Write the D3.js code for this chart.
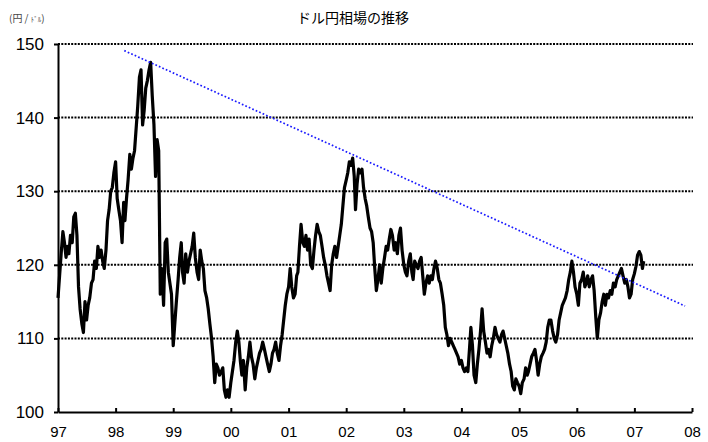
<!DOCTYPE html>
<html>
<head>
<meta charset="utf-8">
<script src="https://cdn.jsdelivr.net/npm/d3@7"></script>
<style>
  body { margin: 0; background: #fff; }
  svg text { font-family: "Liberation Sans", Arial, sans-serif; }
  .jp { font-family: "Noto Sans CJK JP", sans-serif; }
</style>
</head>
<body>
<div id="container"></div>
<script>
// USD/JPY, three readings per month (1st, 11th, 21st)
const rate1997 = [115.5, 118.5, 121.5, 124.5, 123, 121, 122.5, 121.5, 124, 123, 126.5, 127,
  124, 117, 114, 112, 110.8, 115, 112.5, 114.5, 115.5, 117.5, 118, 120.5,
  119.5, 122.5, 121, 122, 120.5, 119.5, 122, 126, 127.5, 130, 130.5, 132.5];
const rate1998 = [134, 129, 127.5, 126, 123, 128.5, 126, 129, 131.5, 135, 133, 134.5,
  135.5, 138.5, 141.5, 145.5, 146.5, 139, 141, 144, 145, 146.5, 147.5, 143,
  139, 132, 137, 135.5, 116, 119.5, 114.5, 123, 123.5, 119, 117.5, 116];
const rate1999 = [109, 112, 115, 118, 121, 123, 119, 117.5, 121.5, 119, 120.5, 121.5,
  122.5, 124.3, 121, 119, 118, 122, 120.5, 119.5, 116.5, 115.5, 114, 112,
  110, 107.5, 104, 106.5, 106, 105, 105.5, 106, 103, 102, 103, 102];
const rate2000 = [104, 105.5, 107, 109.5, 111, 109.5, 107, 105, 107, 103, 106, 107.5,
  109.5, 107.5, 106.5, 104.5, 106, 107, 108, 108.5, 109.5, 108.5, 107.5, 106.5,
  105.5, 106.5, 108, 108.5, 109.5, 108, 107, 109, 110.5, 112.5, 114.5, 116];
const rate2001 = [117, 119.5, 117, 115.5, 116, 118.5, 119, 122.5, 125.5, 123, 122.5, 124,
  122, 123.5, 120, 119.5, 122, 124, 125.5, 124.5, 124, 122.5, 121, 120,
  118.5, 117.5, 116.5, 120, 121.5, 122.5, 121, 122.5, 124, 125.5, 128, 130.5];
const rate2002 = [131.5, 132.5, 134, 133.5, 134.5, 132, 127.5, 131, 133, 132.5, 133, 130.5,
  129, 128, 126.5, 125, 124.5, 123, 119.5, 116.5, 118, 120, 117.5, 119.5,
  121, 122.5, 122, 123.5, 124.8, 124, 122, 123, 121.5, 124, 125, 122];
const rate2003 = [120, 119, 118.5, 120.5, 121.5, 119, 118, 120.5, 120, 119.5, 120.5, 121,
  118.5, 116, 117.5, 118.5, 117.5, 118.5, 118, 119.5, 120.5, 119.5, 118, 117.5,
  116, 114.5, 111.5, 110.5, 109, 110, 109.5, 109, 108.5, 108, 107.5, 106.5];
const rate2004 = [107, 106, 105.5, 106, 105.5, 108.5, 111.5, 109, 105, 104, 106.5, 108.5,
  111, 114, 111, 109.5, 108, 108.5, 107.5, 109, 110, 111.5, 110.5, 110,
  109.5, 110.5, 111, 110, 109, 108, 106.5, 105.5, 103.5, 103, 104.5, 104];
const rate2005 = [103.5, 102.5, 104, 104.5, 106, 105, 105.5, 106.5, 107.5, 108, 108.5, 107,
  105, 106.5, 107.5, 108, 108.5, 109.5, 111.5, 112.5, 112.5, 111, 110, 109.5,
  110.5, 112.5, 113.5, 114.5, 115, 115.5, 116.5, 118, 119, 120.5, 119, 117];
const rate2006 = [116, 114.5, 117.5, 118, 119, 117, 117.5, 118.5, 117, 118, 118.5, 116.5,
  113, 110, 112.5, 113.5, 115, 116, 114.5, 116, 115.5, 116.5, 116, 117.5,
  117, 118, 118.5, 119, 119.5, 118.5, 117.5, 118, 117, 115.5, 116, 118];
const rate2007 = [118.8, 119.8, 121.3, 121.8, 121.3, 119.5, 120.5];

const rateYears = [1997, 1998, 1999, 2000, 2001, 2002, 2003, 2004, 2005, 2006, 2007];
const rateLists = [rate1997, rate1998, rate1999, rate2000, rate2001, rate2002,
  rate2003, rate2004, rate2005, rate2006, rate2007];

// trend line through the 1998 and 2002 highs
const trendDates = ["1998-02-25", "2007-11-18"];
const trendValues = [149.1, 114.4];

const yTicks = [100, 110, 120, 130, 140, 150];
const gridValues = [110, 120, 130, 140, 150];
const xTickYears = [1997, 1998, 1999, 2000, 2001, 2002, 2003, 2004, 2005, 2006, 2007, 2008];

const title = "ドル円相場の推移";

// layout
const W = 708, H = 442;
const plot = { left: 58, right: 692, top: 44, bottom: 412 };

const series = [];
rateYears.forEach((yr, j) => {
  rateLists[j].forEach((v, i) => {
    series.push({ date: new Date(yr, Math.floor(i / 3), 1 + (i % 3) * 10), value: v });
  });
});

const x = d3.scaleTime()
  .domain([new Date(1997, 0, 1), new Date(2008, 0, 1)])
  .range([plot.left, plot.right]);
const y = d3.scaleLinear().domain([100, 150]).range([plot.bottom, plot.top]);

const svg = d3.select("#container").append("svg")
  .attr("width", W).attr("height", H);

// dotted gridlines
svg.append("g").selectAll("line").data(gridValues).enter().append("line")
  .attr("x1", plot.left).attr("x2", plot.right + 1)
  .attr("y1", d => y(d)).attr("y2", d => y(d))
  .attr("stroke", "#000").attr("stroke-width", 2)
  .attr("stroke-dasharray", "2,1.3");

// price line
const line = d3.line().x(d => x(d.date)).y(d => y(d.value));
svg.append("path").datum(series)
  .attr("d", line)
  .attr("fill", "none").attr("stroke", "#000")
  .attr("stroke-width", 3.2).attr("stroke-linejoin", "round");

// trend line
const trend = trendDates.map((d, i) => ({ date: d3.timeParse("%Y-%m-%d")(d), value: trendValues[i] }));
svg.append("path").datum(trend)
  .attr("d", line)
  .attr("fill", "none").attr("stroke", "#1a1aff")
  .attr("stroke-width", 1.7).attr("stroke-dasharray", "1.7,2.1");

// axes
const xAxis = d3.axisBottom(x)
  .tickValues(xTickYears.map(yr => new Date(yr, 0, 1)))
  .tickFormat(d3.timeFormat("%y"))
  .tickSizeInner(-4).tickSizeOuter(0).tickPadding(14);
const gx = svg.append("g").attr("transform", `translate(0,${plot.bottom})`).call(xAxis);
gx.selectAll("text").style("font-size", "15px").attr("fill", "#000");

const yAxis = d3.axisLeft(y).tickValues(yTicks)
  .tickSizeInner(4).tickSizeOuter(0).tickPadding(10);
const gy = svg.append("g").attr("transform", `translate(${plot.left},0)`).call(yAxis);
gy.selectAll("text").style("font-size", "17px").attr("fill", "#000");

svg.selectAll(".domain").attr("stroke", "#000").attr("stroke-width", 2);
svg.selectAll(".tick line").attr("stroke", "#000").attr("stroke-width", 2);

// title and unit
svg.append("text").attr("class", "jp")
  .attr("x", 353).attr("y", 23)
  .attr("text-anchor", "middle")
  .style("font-size", "14px")
  .text(title);

const unit = svg.append("text").attr("class", "jp")
  .attr("x", 9).attr("y", 22)
  .attr("fill", "#444")
  .style("font-size", "10px");
unit.append("tspan").text("(円 / ");
unit.append("tspan").style("font-size", "7px").text("ﾄﾞﾙ");
unit.append("tspan").text(")");
</script>
</body>
</html>
